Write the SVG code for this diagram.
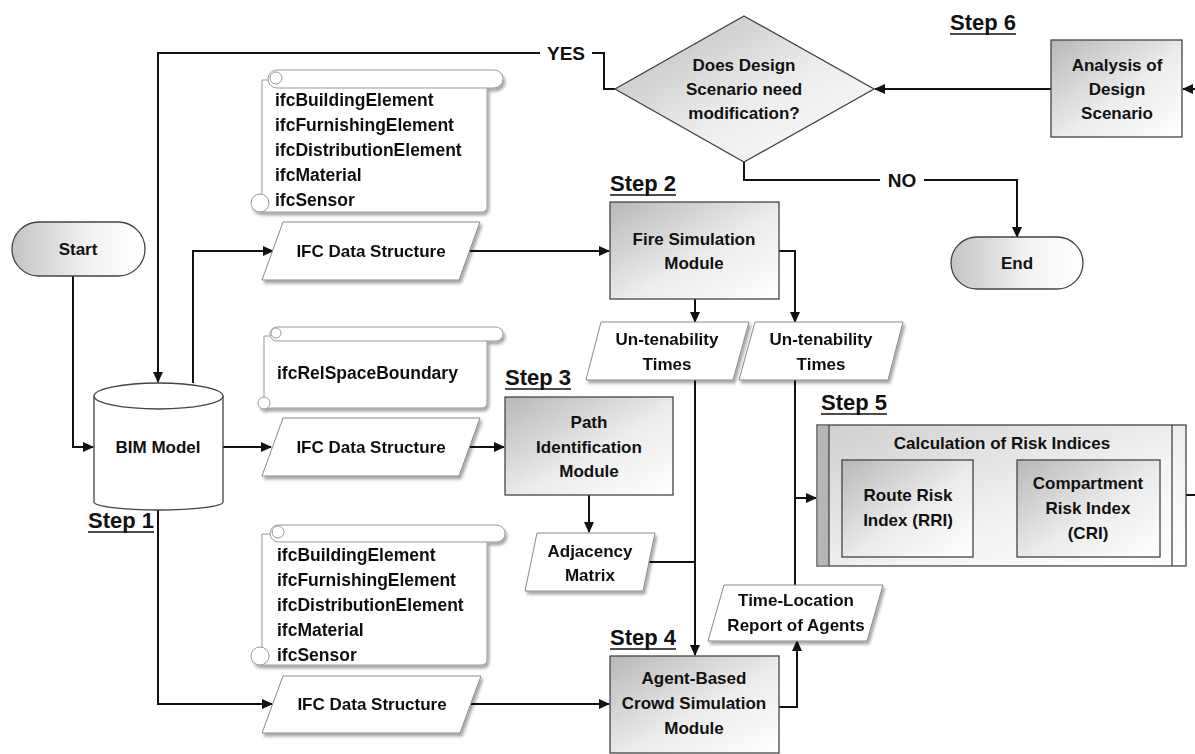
<svg xmlns="http://www.w3.org/2000/svg" width="1195" height="754" viewBox="0 0 1195 754">
<defs>
<style>
.t{font-family:"Liberation Sans",Arial,sans-serif;font-weight:bold;font-size:17px;fill:#111;}
.s{font-size:17.5px;}
.c{text-anchor:middle;}
.st{font-family:"Liberation Sans",Arial,sans-serif;font-weight:bold;font-size:22px;fill:#111;}
.ul{stroke:#111;stroke-width:1.6;}
.box{stroke:#444;stroke-width:1.3;}
.para{fill:#fff;stroke:#888;stroke-width:1;}
.scroll{fill:#fff;stroke:#999;stroke-width:1;}
.con{fill:none;stroke:#111;stroke-width:2;}
.arr{marker-end:url(#ah);}
</style>
<marker id="ah" markerWidth="11" markerHeight="10" refX="10" refY="5" orient="auto" markerUnits="userSpaceOnUse"><path d="M0,0 L11,5 L0,10 z" fill="#111"/></marker>
<linearGradient id="g" x1="0" y1="0" x2="1" y2="1"><stop offset="0" stop-color="#b8b8b8"/><stop offset="0.55" stop-color="#ececec"/><stop offset="1" stop-color="#ffffff"/></linearGradient>
<linearGradient id="gl" x1="0" y1="0" x2="1" y2="1"><stop offset="0" stop-color="#cfcfcf"/><stop offset="0.6" stop-color="#f3f3f3"/><stop offset="1" stop-color="#ffffff"/></linearGradient>
<linearGradient id="gh" x1="0" y1="0" x2="1" y2="0"><stop offset="0" stop-color="#c4c4c4"/><stop offset="0.6" stop-color="#f4f4f4"/><stop offset="1" stop-color="#ffffff"/></linearGradient>
<filter id="sh" x="-10%" y="-10%" width="125%" height="140%"><feDropShadow dx="2" dy="3" stdDeviation="1.8" flood-color="#000" flood-opacity="0.35"/></filter>
</defs>
<rect width="1195" height="754" fill="#fff"/>

<!-- step labels -->
<g id="labels">
<text class="st" x="88" y="528">Step 1</text><line class="ul" x1="88" y1="532" x2="154" y2="532"/>
<text class="st" x="610" y="191">Step 2</text><line class="ul" x1="610" y1="195" x2="676" y2="195"/>
<text class="st" x="505" y="385">Step 3</text><line class="ul" x1="505" y1="389" x2="571" y2="389"/>
<text class="st" x="610" y="645">Step 4</text><line class="ul" x1="610" y1="649" x2="676" y2="649"/>
<text class="st" x="821" y="410">Step 5</text><line class="ul" x1="821" y1="414" x2="887" y2="414"/>
<text class="st" x="950" y="30">Step 6</text><line class="ul" x1="950" y1="34" x2="1016" y2="34"/>
</g>

<!-- connectors -->
<g id="connectors">
<path class="con arr" d="M73,276 V447 H93"/>
<path class="con arr" d="M615,89 H604 V53 H158 V382"/>
<path class="con arr" d="M193,383 V251 H273"/>
<path class="con arr" d="M469,251 H609"/>
<path class="con arr" d="M695,299 V322"/>
<path class="con arr" d="M779,251 H795 V322"/>
<path class="con arr" d="M223,447 H271"/>
<path class="con arr" d="M468,447 H504"/>
<path class="con arr" d="M589,495 V532"/>
<path class="con arr" d="M695,380 V655"/>
<path class="con" d="M648,562 H695"/>
<path class="con" d="M795,380 V585"/>
<path class="con arr" d="M795,498 H816"/>
<path class="con arr" d="M779,707 H797 V641"/>
<path class="con arr" d="M158,507 V704 H272"/>
<path class="con arr" d="M468,704 H609"/>
<path class="con arr" d="M744,162 V180 H1017 V237"/>
<path class="con arr" d="M1051,89 H875"/>
<path class="con arr" d="M1195,89 H1183"/>
<path class="con" d="M1186,495 H1195"/>
<path class="con arr" d="M973,508 H1016"/>
<rect x="540" y="42" width="52" height="22" fill="#fff"/>
<text class="t c" x="566" y="60" style="font-size:19px">YES</text>
<rect x="880" y="169" width="44" height="22" fill="#fff"/>
<text class="t c" x="902" y="187" style="font-size:19px">NO</text>
</g>

<g id="start">
<rect class="box" x="12" y="222" width="133" height="54" rx="27" fill="url(#gh)"/>
<text class="t c" x="78" y="255">Start</text>
</g>

<g id="bim">
<path class="box" d="M94,396 V502 A64.5,8 0 0 0 223,502 V396" fill="#fff"/>
<ellipse class="box" cx="158.5" cy="396" rx="64.5" ry="13" fill="#fff"/>
<text class="t c" x="158" y="453">BIM Model</text>
</g>

<g id="scroll1" filter="url(#sh)">
<path class="scroll" d="M270,80 H487 V206 Q487,212 481,212 H262 V80 Z"/>
<rect class="scroll" x="268" y="70" width="235" height="18" rx="9"/>
<circle class="scroll" cx="276" cy="78" r="6"/>
<circle class="scroll" cx="260" cy="203" r="9"/>
<text class="t s" x="275" y="106">ifcBuildingElement</text>
<text class="t s" x="275" y="131">ifcFurnishingElement</text>
<text class="t s" x="275" y="156">ifcDistributionElement</text>
<text class="t s" x="275" y="181">ifcMaterial</text>
<text class="t s" x="275" y="206">ifcSensor</text>
</g>

<g id="scroll2" filter="url(#sh)">
<path class="scroll" d="M270,336 H487 V402 Q487,408 481,408 H264 V336 Z"/>
<rect class="scroll" x="270" y="327" width="233" height="14" rx="7"/>
<circle class="scroll" cx="276" cy="333" r="5"/>
<circle class="scroll" cx="264" cy="403" r="6"/>
<text class="t s" x="277" y="379">ifcRelSpaceBoundary</text>
</g>

<g id="scroll3" filter="url(#sh)">
<path class="scroll" d="M270,534 H487 V659 Q487,665 481,665 H262 V534 Z"/>
<rect class="scroll" x="270" y="525" width="235" height="17" rx="8.5"/>
<circle class="scroll" cx="278" cy="532" r="6"/>
<circle class="scroll" cx="260" cy="656" r="9"/>
<text class="t s" x="277" y="561">ifcBuildingElement</text>
<text class="t s" x="277" y="586">ifcFurnishingElement</text>
<text class="t s" x="277" y="611">ifcDistributionElement</text>
<text class="t s" x="277" y="636">ifcMaterial</text>
<text class="t s" x="277" y="661">ifcSensor</text>
</g>

<g id="ifc1" filter="url(#sh)">
<polygon class="para" points="283,222 480,222 459,280 262,280"/>
<text class="t c" x="371" y="257">IFC Data Structure</text>
</g>
<g id="ifc2" filter="url(#sh)">
<polygon class="para" points="283,418 480,418 459,476 262,476"/>
<text class="t c" x="371" y="453">IFC Data Structure</text>
</g>
<g id="ifc3" filter="url(#sh)">
<polygon class="para" points="283,676 481,676 460,733 262,733"/>
<text class="t c" x="372" y="710">IFC Data Structure</text>
</g>

<g id="fire">
<rect class="box" x="610" y="202" width="169" height="97" fill="url(#g)"/>
<text class="t c" x="694" y="245">Fire Simulation</text>
<text class="t c" x="694" y="269">Module</text>
</g>

<g id="ut1" filter="url(#sh)">
<polygon class="para" points="601,322 749,322 733,380 586,380"/>
<text class="t c" x="667" y="345">Un-tenability</text>
<text class="t c" x="667" y="370">Times</text>
</g>
<g id="ut2" filter="url(#sh)">
<polygon class="para" points="755,322 903,322 888,380 739,380"/>
<text class="t c" x="821" y="345">Un-tenability</text>
<text class="t c" x="821" y="370">Times</text>
</g>

<g id="path">
<rect class="box" x="505" y="397" width="168" height="98" fill="url(#g)"/>
<text class="t c" x="589" y="428">Path</text>
<text class="t c" x="589" y="453">Identification</text>
<text class="t c" x="589" y="477">Module</text>
</g>

<g id="adj" filter="url(#sh)">
<polygon class="para" points="537,533 655,533 643,591 525,591"/>
<text class="t c" x="590" y="557">Adjacency</text>
<text class="t c" x="590" y="581">Matrix</text>
</g>

<g id="tl" filter="url(#sh)">
<polygon class="para" points="724,585 883,585 867,641 708,641"/>
<text class="t c" x="796" y="606">Time-Location</text>
<text class="t c" x="796" y="631">Report of Agents</text>
</g>

<g id="agent">
<rect class="box" x="610" y="656" width="169" height="97" fill="url(#g)"/>
<text class="t c" x="694" y="684">Agent-Based</text>
<text class="t c" x="694" y="709">Crowd Simulation</text>
<text class="t c" x="694" y="734">Module</text>
</g>

<g id="step5">
<rect class="box" x="817" y="425" width="369" height="141" fill="url(#gl)"/>
<rect x="817.7" y="425.7" width="11.3" height="139.6" fill="#b5b5b5"/>
<line class="box" x1="829" y1="425" x2="829" y2="566"/>
<line class="box" x1="1172" y1="425" x2="1172" y2="566"/>
<text class="t c" x="1002" y="449">Calculation of Risk Indices</text>
<rect class="box" x="842" y="460" width="131" height="97" fill="url(#g)"/>
<text class="t c" x="908" y="501">Route Risk</text>
<text class="t c" x="908" y="526">Index (RRI)</text>
<rect class="box" x="1017" y="460" width="143" height="97" fill="url(#g)"/>
<text class="t c" x="1088" y="489">Compartment</text>
<text class="t c" x="1088" y="514">Risk Index</text>
<text class="t c" x="1088" y="539">(CRI)</text>
</g>

<g id="decision">
<polygon class="box" points="744,16 874,89 744,162 615,89" fill="url(#g)"/>
<text class="t c" x="744" y="71">Does Design</text>
<text class="t c" x="744" y="95">Scenario need</text>
<text class="t c" x="744" y="119">modification?</text>
</g>

<g id="analysis">
<rect class="box" x="1051" y="40" width="131" height="97" fill="url(#g)"/>
<text class="t c" x="1117" y="71">Analysis of</text>
<text class="t c" x="1117" y="95">Design</text>
<text class="t c" x="1117" y="119">Scenario</text>
</g>

<g id="end">
<rect class="box" x="951" y="237" width="132" height="52" rx="26" fill="url(#gh)"/>
<text class="t c" x="1017" y="269">End</text>
</g>
</svg>
